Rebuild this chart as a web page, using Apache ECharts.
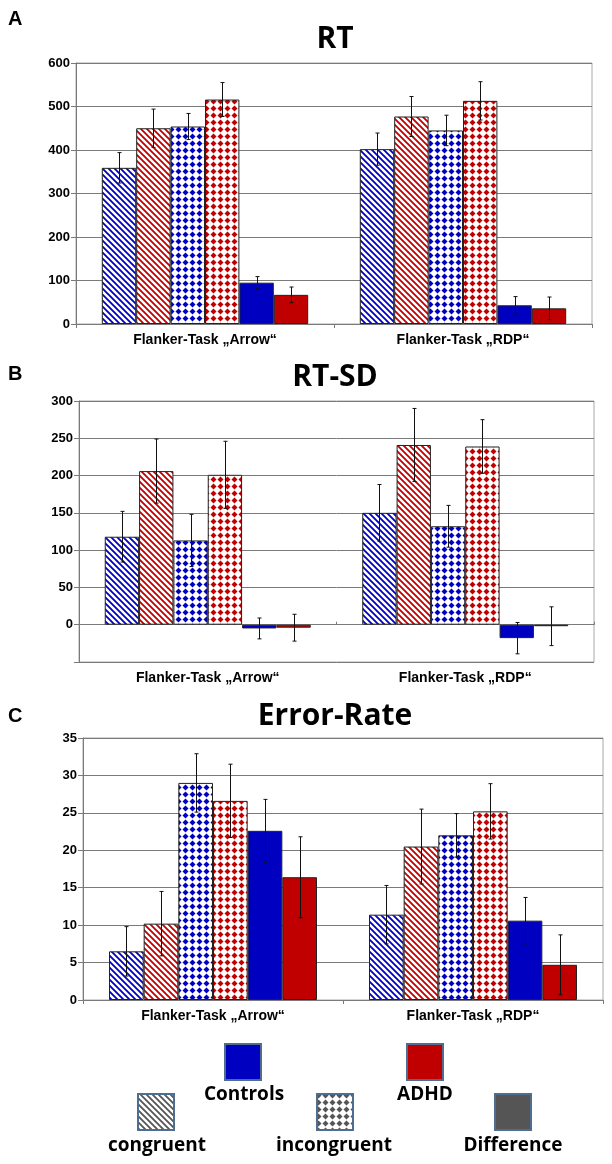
<!DOCTYPE html>
<html>
<head>
<meta charset="utf-8">
<script src="https://cdn.jsdelivr.net/npm/echarts@6/dist/echarts.min.js"></script>
<style>html,body{margin:0;padding:0;background:#fff;}#c{width:612px;height:1164px;}</style>
</head>
<body>
<div id="c"></div>
<script>
// ---------------- DATA ----------------
const categories = ['Flanker-Task \u201EArrow\u201C', 'Flanker-Task \u201ERDP\u201C'];
const seriesNames = ['congruent Controls', 'congruent ADHD', 'incongruent Controls', 'incongruent ADHD', 'Difference Controls', 'Difference ADHD'];
const panelTitles = ['RT', 'RT-SD', 'Error-Rate'];
const panelLetters = ['A', 'B', 'C'];
const legendGroups = ['Controls', 'ADHD'];
const legendConditions = ['congruent', 'incongruent', 'Difference'];

// Each row = one series, values for [Arrow, RDP]
const rtMean = [[359, 402], [450, 477], [454, 445], [516, 513], [95, 43], [67, 36]];
const rtErr  = [[35, 37],   [44, 46],   [30, 35],   [39, 44],   [14, 20], [18, 26]];
const sdMean = [[118, 150], [206, 241], [113, 132], [201, 239], [-5, -18], [-4, -2]];
const sdErr  = [[34, 38],   [43, 49],   [35, 28],   [45, 36],   [14, 21],  [18, 26]];
const erMean = [[6.5, 11.4], [10.2, 20.5], [29.0, 22.0], [26.6, 25.2], [22.6, 10.6], [16.4, 4.7]];
const erErr  = [[3.3, 3.9],  [4.3, 5.0],   [3.9, 2.9],   [4.9, 3.7],   [4.2, 3.1],   [5.4, 4.0]];

// axis [min, max, interval]
const rtAxis = [0, 600, 100];
const sdAxis = [-50, 300, 50];
const erAxis = [0, 35, 5];

// ---------------- STYLES ----------------
const BLUE = '#0000C0', RED = '#C00000', GREY = '#555555';
function makeDiag(color) {
  const c = document.createElement('canvas'); c.width = 6; c.height = 6;
  const g = c.getContext('2d');
  g.fillStyle = '#fff'; g.fillRect(0, 0, 6, 6);
  g.strokeStyle = color; g.lineWidth = 1.8;
  g.beginPath();
  for (const k of [-6, 0, 6]) { g.moveTo(k - 1, -1); g.lineTo(k + 7, 7); }
  g.stroke();
  return { image: c, repeat: 'repeat' };
}
function makeDiamond(color) {
  const c = document.createElement('canvas'); c.width = 7; c.height = 7;
  const g = c.getContext('2d');
  g.fillStyle = '#fff'; g.fillRect(0, 0, 7, 7);
  g.fillStyle = color;
  g.beginPath();
  g.moveTo(3.5, 0.5); g.lineTo(6.5, 3.5); g.lineTo(3.5, 6.5); g.lineTo(0.5, 3.5); g.closePath();
  g.fill();
  return { image: c, repeat: 'repeat' };
}
const fills = [makeDiag(BLUE), makeDiag(RED), makeDiamond(BLUE), makeDiamond(RED), BLUE, RED];

const grids = [
  { left: 76, top: 63, width: 516, height: 261 },
  { left: 79, top: 401, width: 515, height: 261 },
  { left: 83, top: 738, width: 520, height: 262 }
];
const means = [rtMean, sdMean, erMean];
const errs = [rtErr, sdErr, erErr];
const axes = [rtAxis, sdAxis, erAxis];

const LABEL_FONT = { fontFamily: 'Liberation Sans', fontWeight: 'bold', fontSize: 13, color: '#000' };
const GRIDC = '#7a7a7a';

const option = { animation: false, backgroundColor: '#fff', grid: [], xAxis: [], yAxis: [], series: [], graphic: [] };

grids.forEach((gr, p) => {
  option.grid.push(Object.assign({ show: true, borderColor: '#a8a8a8', borderWidth: 1, backgroundColor: 'transparent' }, gr));
  const negative = axes[p][0] < 0;
  option.xAxis.push({
    type: 'category', gridIndex: p, data: categories,
    axisLine: { show: !negative, onZero: false, lineStyle: { color: GRIDC } },
    axisTick: { show: !negative, length: 4, lineStyle: { color: GRIDC } },
    axisLabel: Object.assign({}, LABEL_FONT, { margin: 9, fontSize: 14 })
  });
  option.yAxis.push({
    type: 'value', gridIndex: p, min: axes[p][0], max: axes[p][1], interval: axes[p][2],
    axisLine: { show: true, lineStyle: { color: GRIDC } },
    axisTick: { show: true, length: 5, lineStyle: { color: GRIDC } },
    axisLabel: Object.assign({ margin: 6, formatter: v => (v < 0 ? '' : String(v)) }, LABEL_FONT),
    splitLine: { show: true, lineStyle: { color: GRIDC, width: 1 } }
  });
  means[p].forEach((vals, s) => {
    option.series.push({
      type: 'bar', name: seriesNames[s], xAxisIndex: p, yAxisIndex: p,
      data: vals, barGap: '0%', barCategoryGap: '20%',
      itemStyle: { color: fills[s], borderColor: '#222', borderWidth: 1 }
    });
  });
  const ebData = [];
  means[p].forEach((vals, s) => vals.forEach((m, c) => ebData.push([c, s, m, errs[p][s][c]])));
  option.series.push({
    type: 'custom', xAxisIndex: p, yAxisIndex: p, z: 10, data: ebData,
    renderItem: (params, api) => {
      const c = api.value(0), s = api.value(1), m = api.value(2), e = api.value(3);
      const band = api.size([1, 0])[0];
      const gw = band * 0.8, bw = gw / 6;
      const cx = api.coord([c, m])[0] - gw / 2 + (s + 0.5) * bw;
      const x = Math.round(cx) + 0.5;
      const yt = api.coord([c, m + e])[1], yb = api.coord([c, m - e])[1];
      const st = { stroke: '#111', lineWidth: 1 };
      return { type: 'group', children: [
        { type: 'line', shape: { x1: x, y1: yt, x2: x, y2: yb }, style: st },
        { type: 'line', shape: { x1: x - 2, y1: yt, x2: x + 2, y2: yt }, style: st },
        { type: 'line', shape: { x1: x - 2, y1: yb, x2: x + 2, y2: yb }, style: st }
      ] };
    }
  });
});

// extra zero axis line for panel B (with category ticks)
option.xAxis.push({
  type: 'category', gridIndex: 1, data: categories,
  axisLine: { show: true, onZero: true, lineStyle: { color: GRIDC } },
  axisTick: { show: true, length: 3, lineStyle: { color: GRIDC } },
  axisLabel: { show: false }, splitLine: { show: false }
});

// titles & letters
const titleY = [39, 377, 716];
const letterY = [9, 364, 706];
panelTitles.forEach((t, i) => {
  option.graphic.push({ type: 'text', x: 335, y: titleY[i], style: { text: t, fontFamily: 'Open Sans', fontWeight: 'bold', fontSize: 30, fill: '#000', textAlign: 'center', textVerticalAlign: 'middle' } });
  option.graphic.push({ type: 'text', x: 8, y: letterY[i], style: { text: panelLetters[i], fontFamily: 'Liberation Sans', fontWeight: 'bold', fontSize: 20, fill: '#000', textAlign: 'left', textVerticalAlign: 'top' } });
});

// legend
const BOX_STROKE = '#4F6E8F';
const groupBoxes = [[225, 1044, BLUE], [407, 1044, RED]];
const groupText = [[244, 1095], [425, 1095]];
const condBoxes = [[138, 1094, makeDiag(GREY)], [317, 1094, makeDiamond(GREY)], [495, 1094, GREY]];
const condText = [[157, 1146], [334, 1146], [513, 1146]];
legendGroups.forEach((g, i) => {
  option.graphic.push({ type: 'rect', shape: { x: groupBoxes[i][0], y: groupBoxes[i][1], width: 36, height: 36 }, style: { fill: groupBoxes[i][2], stroke: BOX_STROKE, lineWidth: 2 } });
  option.graphic.push({ type: 'text', x: groupText[i][0], y: groupText[i][1], style: { text: g, fontFamily: 'Open Sans', fontWeight: 'bold', fontSize: 19, fill: '#000', textAlign: 'center', textVerticalAlign: 'middle' } });
});
legendConditions.forEach((g, i) => {
  option.graphic.push({ type: 'rect', shape: { x: condBoxes[i][0], y: condBoxes[i][1], width: 36, height: 36 }, style: { fill: condBoxes[i][2], stroke: BOX_STROKE, lineWidth: 2 } });
  option.graphic.push({ type: 'text', x: condText[i][0], y: condText[i][1], style: { text: g, fontFamily: 'Open Sans', fontWeight: 'bold', fontSize: 19, fill: '#000', textAlign: 'center', textVerticalAlign: 'middle' } });
});

const chart = echarts.init(document.getElementById('c'), null, { renderer: 'canvas' });
chart.setOption(option);
</script>
</body>
</html>
